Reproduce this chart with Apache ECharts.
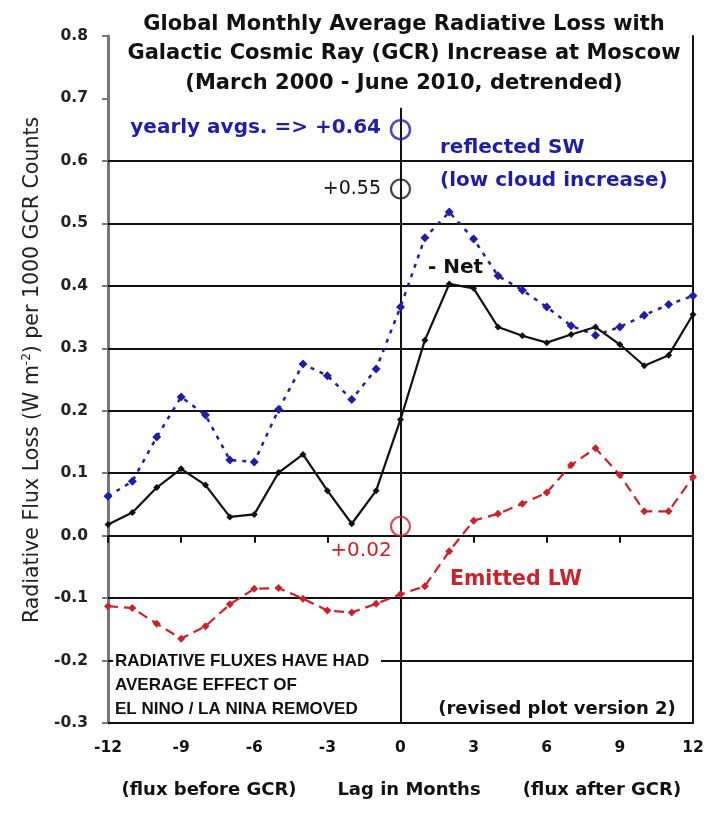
<!DOCTYPE html>
<html><head><meta charset="utf-8">
<script src="https://cdn.jsdelivr.net/npm/echarts@6/dist/echarts.min.js"></script>
<style>html,body{margin:0;padding:0;background:#fff}#c{width:707px;height:815px}</style>
</head><body><div id="c"></div>
<script>
// ---- data ----
const months = [-12,-11,-10,-9,-8,-7,-6,-5,-4,-3,-2,-1,0,1,2,3,4,5,6,7,8,9,10,11,12];
const reflectedSW = [0.063,0.087,0.158,0.222,0.193,0.121,0.118,0.202,0.275,0.256,0.218,0.267,0.366,0.477,0.518,0.475,0.416,0.393,0.366,0.336,0.321,0.334,0.353,0.370,0.384];
const net = [0.018,0.037,0.077,0.107,0.081,0.030,0.034,0.101,0.130,0.072,0.019,0.072,0.186,0.313,0.403,0.396,0.334,0.320,0.309,0.322,0.334,0.306,0.272,0.289,0.354];
const emittedLW = [-0.113,-0.116,-0.141,-0.165,-0.145,-0.110,-0.085,-0.084,-0.101,-0.120,-0.123,-0.109,-0.094,-0.081,-0.025,0.024,0.035,0.051,0.069,0.113,0.140,0.097,0.039,0.039,0.094];
const yearlyAvgLag = 0;
const yearlyAvgSW = 0.65;
const yearlyAvgNet = 0.555;
const yearlyAvgLW = 0.015;
const gridLineValues = [-0.2,-0.1,0.0,0.1,0.2,0.3,0.4,0.5,0.6];
const zeroLineTop = 0.685;
const yMin = -0.3, yMax = 0.8, yStep = 0.1;
const xMin = -12, xMax = 12, xStep = 3;

const BLUE = '#1f1fa6', RED = '#c8232b', BLACK = '#111';
const F_BOLD = 'DejaVu Sans';
const pair = arr => months.map((m, i) => [m, arr[i]]);

const chart = echarts.init(document.getElementById('c'), null, {renderer: 'canvas'});
const txt = (x, y, text, o) => ({
  type: 'text', x, y, z: 50,
  style: Object.assign({text, fontFamily: F_BOLD, fontWeight: 'bold', fontSize: 20, fill: BLACK, align: 'left', verticalAlign: 'middle'}, o || {})
});

chart.setOption({
  animation: false,
  backgroundColor: '#fff',
  grid: {left: 108, right: 14, top: 36, bottom: 92, containLabel: false},
  xAxis: [
    {type: 'value', min: xMin, max: xMax, interval: xStep, position: 'bottom',
     axisLine: {show: true, onZero: true, lineStyle: {color: BLACK, width: 2}},
     axisTick: {show: true, length: 7, lineStyle: {color: BLACK, width: 2}},
     axisLabel: {show: false}, splitLine: {show: false}},
    {type: 'value', min: xMin, max: xMax, interval: xStep, position: 'bottom',
     axisLine: {show: true, onZero: false, lineStyle: {color: BLACK, width: 2}},
     axisTick: {show: false},
     axisLabel: {show: true, margin: 17, fontFamily: F_BOLD, fontWeight: 'bold', fontSize: 15.5, color: BLACK,
                 formatter: v => String(v)},
     splitLine: {show: false}}
  ],
  yAxis: [
    {type: 'value', min: yMin, max: yMax, interval: yStep, position: 'left',
     axisLine: {show: true, onZero: false, lineStyle: {color: '#777', width: 3}},
     axisTick: {show: true, length: 6, lineStyle: {color: '#777', width: 2}},
     axisLabel: {margin: 20, fontFamily: F_BOLD, fontWeight: 'bold', fontSize: 15.5, color: '#222',
                 formatter: v => (Math.round(v * 10) / 10).toFixed(1)},
     splitLine: {show: false}},
    {type: 'value', min: yMin, max: yMax, interval: yStep, position: 'right',
     axisLine: {show: true, onZero: false, lineStyle: {color: BLACK, width: 2}},
     axisTick: {show: false}, axisLabel: {show: false}, splitLine: {show: false}}
  ],
  series: [
    {type: 'line', name: 'grid', data: [], z: 1, silent: true,
     markLine: {silent: true, symbol: ['none', 'none'], label: {show: false},
       lineStyle: {color: BLACK, width: 2, type: 'solid'}, animation: false,
       data: gridLineValues.map(v => ({yAxis: v})).concat([
         [{coord: [yearlyAvgLag, yMin]}, {coord: [yearlyAvgLag, zeroLineTop]}]
       ])}},
    {type: 'line', name: 'reflected SW', data: pair(reflectedSW), z: 5,
     symbol: 'diamond', symbolSize: 9, showSymbol: true,
     lineStyle: {color: BLUE, width: 2.5, type: [4, 6]},
     itemStyle: {color: BLUE}},
    {type: 'line', name: 'Net', data: pair(net), z: 6,
     symbol: 'diamond', symbolSize: 7,
     lineStyle: {color: BLACK, width: 2.2},
     itemStyle: {color: BLACK}},
    {type: 'line', name: 'Emitted LW', data: pair(emittedLW), z: 5,
     symbol: 'diamond', symbolSize: 8,
     lineStyle: {color: RED, width: 2.2, type: [10, 6]},
     itemStyle: {color: RED}},
    {type: 'scatter', name: 'yearly avgs', z: 7, symbol: 'circle', symbolSize: 19,
     data: [
       {value: [yearlyAvgLag, yearlyAvgSW], itemStyle: {color: 'rgba(0,0,0,0)', borderColor: BLUE, borderWidth: 2.5}},
       {value: [yearlyAvgLag, yearlyAvgNet], itemStyle: {color: 'rgba(0,0,0,0)', borderColor: BLACK, borderWidth: 2.2}},
       {value: [yearlyAvgLag, yearlyAvgLW], itemStyle: {color: 'rgba(0,0,0,0)', borderColor: RED, borderWidth: 2.2}}
     ]}
  ],
  graphic: [
    txt(404, 25, 'Global Monthly Average Radiative Loss with', {fontSize: 21, align: 'center'}),
    txt(404, 54, 'Galactic Cosmic Ray (GCR) Increase at Moscow', {fontSize: 21, align: 'center'}),
    txt(404, 84, '(March 2000 - June 2010, detrended)', {fontSize: 21, align: 'center'}),
    txt(381, 128, 'yearly avgs. => +0.64', {fill: BLUE, align: 'right'}),
    txt(381, 189, '+0.55', {fontSize: 19, fontWeight: 'normal', align: 'right'}),
    txt(440, 148, 'reflected SW', {fill: BLUE}),
    txt(440, 181, '(low cloud increase)', {fill: BLUE}),
    txt(428, 268, '- Net', {}),
    txt(361, 551, '+0.02', {fill: RED, fontWeight: 'normal', align: 'center'}),
    txt(450, 580, 'Emitted LW', {fill: RED, fontSize: 20.5}),
    {type: 'rect', z: 40, shape: {x: 113, y: 648, width: 268, height: 73}, style: {fill: '#fff'}},
    txt(115, 661, 'RADIATIVE FLUXES HAVE HAD', {fontFamily: 'Liberation Sans', fontSize: 17}),
    txt(115, 685, 'AVERAGE EFFECT OF', {fontFamily: 'Liberation Sans', fontSize: 17}),
    txt(115, 709, 'EL NINO / LA NINA REMOVED', {fontFamily: 'Liberation Sans', fontSize: 17}),
    txt(557, 709, '(revised plot version 2)', {fontSize: 18, align: 'center'}),
    txt(209, 790, '(flux before GCR)', {fontSize: 18, align: 'center'}),
    txt(409, 790, 'Lag in Months', {fontSize: 18, align: 'center'}),
    txt(602, 790, '(flux after GCR)', {fontSize: 18, align: 'center'}),
    {type: 'text', x: 33, y: 370, rotation: Math.PI / 2, z: 50,
     style: {text: 'Radiative Flux Loss (W m{sup|-2}) per 1000 GCR Counts',
             fontFamily: 'DejaVu Sans', fontSize: 20.5, fill: '#222', align: 'center', verticalAlign: 'middle',
             lineHeight: 24,
             rich: {sup: {fontFamily: 'DejaVu Sans', fontSize: 12, fill: '#222', verticalAlign: 'top', lineHeight: 12}}}}
  ]
});
</script>
</body></html>
